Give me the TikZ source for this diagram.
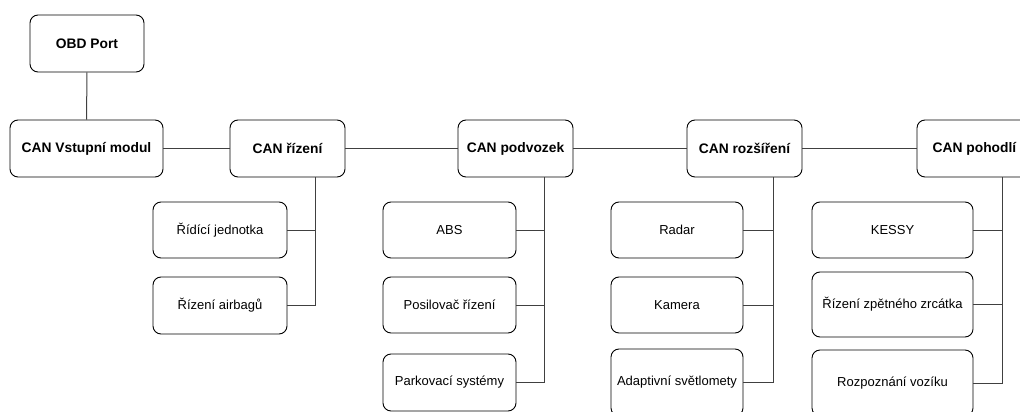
\documentclass[tikz,border=0pt]{standalone}
\usepackage{fontspec}
\setmainfont{Liberation Sans}
\begin{document}
\begin{tikzpicture}[x=1pt,y=-1pt,
  box/.style={draw=black,line width=0.9pt,rounded corners=8pt,fill=white,align=center,inner sep=0pt,font=\fontsize{13}{15}\selectfont},
  head/.style={box,minimum height=57pt,font=\fontsize{13.8}{16}\selectfont\bfseries},
  leaf/.style={box},
  link/.style={draw=black!75,line width=1pt},
  ]
\useasboundingbox (0,0) rectangle (1020,412);
\clip (0,0) rectangle (1020,412);
% heads
\node[head,minimum width=114pt] (obd) at (87,43.5) {OBD Port};
\node[head,minimum width=153pt] (vstup) at (86.5,148.5) {CAN Vstupní modul};
\node[head,minimum width=115pt] (rizeni) at (287.5,148.5) {CAN řízení};
\node[head,minimum width=115pt] (podvozek) at (515.5,148.5) {CAN podvozek};
\node[head,minimum width=115pt] (rozsireni) at (744.5,148.5) {CAN rozšíření};
\node[head,minimum width=115pt] (pohodli) at (974.5,148.5) {CAN pohodlí};
% leaves
\node[leaf,minimum width=134pt,minimum height=56pt] (ridici) at (220,230) {Řídící jednotka};
\node[leaf,minimum width=134pt,minimum height=57pt] (airbag) at (220,305.5) {Řízení airbagů};
\node[leaf,minimum width=133pt,minimum height=56pt] (abs) at (449.5,230) {ABS};
\node[leaf,minimum width=133pt,minimum height=56pt] (posil) at (449.5,305) {Posilovač řízení};
\node[leaf,minimum width=133pt,minimum height=57pt] (park) at (449.5,382.5) {Parkovací systémy};
\node[leaf,minimum width=132pt,minimum height=56pt] (radar) at (677,230) {Radar};
\node[leaf,minimum width=132pt,minimum height=56pt] (kamera) at (677,305) {Kamera};
\node[leaf,minimum width=132pt,minimum height=67pt] (adapt) at (677,382.5) {Adaptivní světlomety};
\node[leaf,minimum width=161pt,minimum height=56pt] (kessy) at (892.5,230) {KESSY};
\node[leaf,minimum width=161pt,minimum height=65pt] (zpet) at (892.5,304.5) {Řízení zpětného zrcátka};
\node[leaf,minimum width=161pt,minimum height=66pt] (rozp) at (892.5,383) {Rozpoznání vozíku};
% branch points
\coordinate (b1) at (315,177);
\coordinate (b2) at (544,177);
\coordinate (b3) at (773,177);
\coordinate (b4) at (1002,177);
% main links
\draw[link] (obd) -- (vstup);
\draw[link] (vstup) -- (rizeni);
\draw[link] (rizeni) -- (podvozek);
\draw[link] (podvozek) -- (rozsireni);
\draw[link] (rozsireni) -- (pohodli);
% branch links
\draw[link] (b1) |- (ridici.east);
\draw[link] (b1) |- (airbag.east);
\draw[link] (b2) |- (abs.east);
\draw[link] (b2) |- (posil.east);
\draw[link] (b2) |- (park.east);
\draw[link] (b3) |- (radar.east);
\draw[link] (b3) |- (kamera.east);
\draw[link] (b3) |- (adapt.east);
\draw[link] (b4) |- (kessy.east);
\draw[link] (b4) |- (zpet.east);
\draw[link] (b4) |- (rozp.east);
\end{tikzpicture}
\end{document}
